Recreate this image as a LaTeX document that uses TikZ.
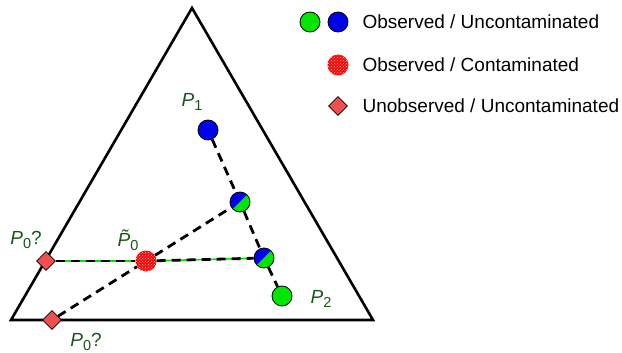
\documentclass[tikz,border=0pt]{standalone}
\usepackage{fontspec}
\setmainfont{Liberation Sans}
\usetikzlibrary{shapes.geometric,patterns}

\definecolor{ptgreen}{RGB}{0,230,0}
\definecolor{ptblue}{RGB}{0,0,235}
\definecolor{unobs}{RGB}{240,80,80}
\definecolor{lblgreen}{RGB}{25,85,25}

\newcommand{\lowidx}[1]{\raisebox{-0.35ex}{\upshape\fontsize{14.5}{15}\selectfont #1}}

\tikzset{
  pt/.style={circle,draw=black,line width=0.8pt,minimum size=20pt,inner sep=0pt},
  obsgreen/.style={pt,fill=ptgreen},
  obsblue/.style={pt,fill=ptblue},
  mixed/.style={pt,path picture={
      \fill[ptblue] (path picture bounding box.center) ++(45:12pt) arc[start angle=45,end angle=225,radius=12pt] -- cycle;
      \fill[ptgreen] (path picture bounding box.center) ++(225:12pt) arc[start angle=225,end angle=405,radius=12pt] -- cycle;}},
  contam/.style={circle,minimum size=21pt,inner sep=0pt,fill=red,
      postaction={pattern=crosshatch dots,pattern color=white!85!red}},
  unobsbox/.style={diamond,draw=black,line width=0.6pt,fill=unobs,minimum size=19pt,inner sep=0pt},
  lbl/.style={text=lblgreen,font=\fontsize{19}{21}\selectfont\itshape},
  legtext/.style={anchor=west,font=\fontsize{19}{22}\selectfont},
  link/.style={black,line width=2.8pt,dash pattern=on 9pt off 6pt},
  glow/.style={ptgreen,line width=1.6pt}
}

\begin{document}
\begin{tikzpicture}[x=1pt,y=-1pt]
  \useasboundingbox (0,0) rectangle (622,353);

  % simplex
  \draw[line width=2.6pt,line join=miter] (192,8) -- (373,320) -- (11,320) -- cycle;

  % points
  \node[obsblue]  (p1) at (208,130) {};
  \node[mixed]    (m1) at (240,202) {};
  \node[mixed]    (m2) at (264,258) {};
  \node[obsgreen] (p2) at (282,296) {};
  \node[contam]   (p0t) at (146,261) {};
  \node[unobsbox] (d1) at (46,261) {};
  \node[unobsbox] (d2) at (52,320) {};

  % connectors
  \draw[link] (p1) -- (m1);
  \draw[link] (m1) -- (m2);
  \draw[link] (m2) -- (p2);
  \draw[glow] (d1) -- (p0t) -- (m2);
  \draw[link] (d1) -- (p0t);
  \draw[link] (p0t) -- (m2);
  \draw[link] (d2) -- (p0t);
  \draw[link] (p0t) -- (m1);

  % labels
  \node[lbl] (l1) at (192,102) {P\lowidx{1}};
  \node[lbl] (l2) at (321,299) {P\lowidx{2}};
  \node[lbl] (l0t) at (128,240) {\~{P}\lowidx{0}};
  \node[lbl] (l0a) at (26,240) {P\lowidx{0}\upshape ?};
  \node[lbl] (l0b) at (86,342) {P\lowidx{0}\upshape ?};

  % legend
  \node[obsgreen] (kg) at (310,22) {};
  \node[obsblue]  (kb) at (338,22) {};
  \node[contam]   (kc) at (338,65) {};
  \node[unobsbox] (kd) at (338,106) {};
  \node[legtext] (t1) at (359,22) {Observed / Uncontaminated};
  \node[legtext] (t2) at (359,65) {Observed / Contaminated};
  \node[legtext] (t3) at (359,106) {Unobserved / Uncontaminated};
\end{tikzpicture}
\end{document}
